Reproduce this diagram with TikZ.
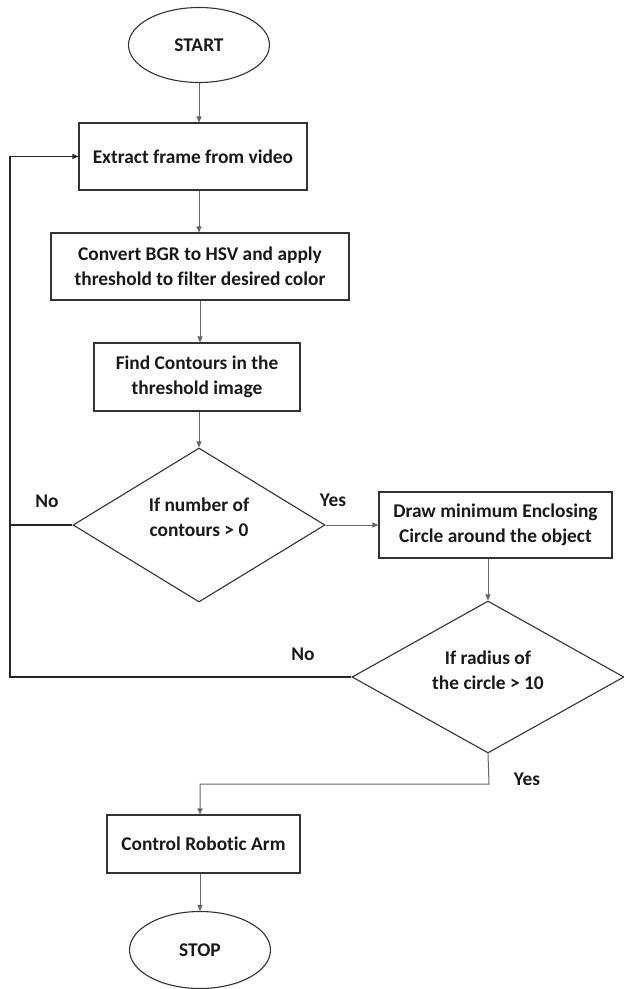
\documentclass[tikz,border=0pt]{standalone}
\usepackage{fontspec}
\setmainfont[RawFeature={-liga}]{Carlito}
\usetikzlibrary{shapes.geometric,arrows.meta}
\begin{document}
\begin{tikzpicture}[x=1pt,y=-1pt,
  every node/.style={font=\bfseries\fontsize{19.4}{25}\selectfont, text=black!90},
  box/.style={draw=black!80, line width=1.1pt, rectangle, align=center, inner sep=0pt},
  term/.style={draw=black!80, line width=1.1pt, ellipse, minimum width=141pt, minimum height=75pt, inner sep=0pt},
  dia/.style={draw=black!80, line width=1.1pt, diamond, inner sep=0pt},
  txt/.style={align=center, inner sep=0pt},
  conn/.style={draw=black!60, line width=1pt, -{Triangle[length=6pt,width=5pt]}},
  loopl/.style={draw=black!85, line width=1.1pt}
]
\useasboundingbox (0,0) rectangle (624,989);
\node[term] (start) at (199,45) {START};
\node[box, minimum width=228pt, minimum height=67pt] (extract) at (193,156.5) {Extract frame from video};
\node[box, minimum width=298pt, minimum height=67pt] (convert) at (200,266.5) {Convert BGR to HSV and apply\\threshold to filter desired color};
\node[box, minimum width=206pt, minimum height=68pt] (find) at (197,377) {Find Contours in the\\threshold image};
\node[dia, minimum width=252pt, minimum height=154pt, shape aspect=1.64] (d1) at (199,525) {};
\node[txt] (d1t) at (199,517) {If number of\\contours > 0};
\node[box, minimum width=233pt, minimum height=66pt] (drawc) at (495.5,525) {Draw minimum Enclosing\\Circle around the object};
\node[dia, minimum width=272pt, minimum height=152pt, shape aspect=1.79] (d2) at (488,677) {};
\node[txt] (d2t) at (488,670) {If radius of\\the circle > 10};
\node[box, minimum width=193pt, minimum height=58pt] (ctrl) at (203.5,844) {Control Robotic Arm};
\node[term, minimum height=77pt] (stop) at (200,950) {STOP};
\node[txt] (no1) at (47,501) {No};
\node[txt] (yes1) at (333,500) {Yes};
\node[txt] (no2) at (303,654) {No};
\node[txt] (yes2) at (527,779) {Yes};
\coordinate (lb) at (10,677);
\coordinate (yb) at (489,784);
\draw[conn] (start.south) -- (start.south |- extract.north);
\draw[conn] (start.south |- extract.south) -- (start.south |- convert.north);
\draw[conn] (convert.south) -- (convert.south |- find.north);
\draw[conn] (find.south -| d1.north) -- (d1.north);
\draw[conn] (d1.east) -- (drawc.west);
\draw[conn] (drawc.south -| d2.north) -- (d2.north);
\draw[loopl, -{Triangle[length=6pt,width=5pt]}] (d2.west) -- (lb) |- (extract.west);
\draw[loopl] (d1.west) -- (d1.west -| lb);
\draw[conn] (d2.south) -- (yb) -| (stop.north |- ctrl.north);
\draw[conn] (ctrl.south -| stop.north) -- (stop.north);
\end{tikzpicture}
\end{document}
